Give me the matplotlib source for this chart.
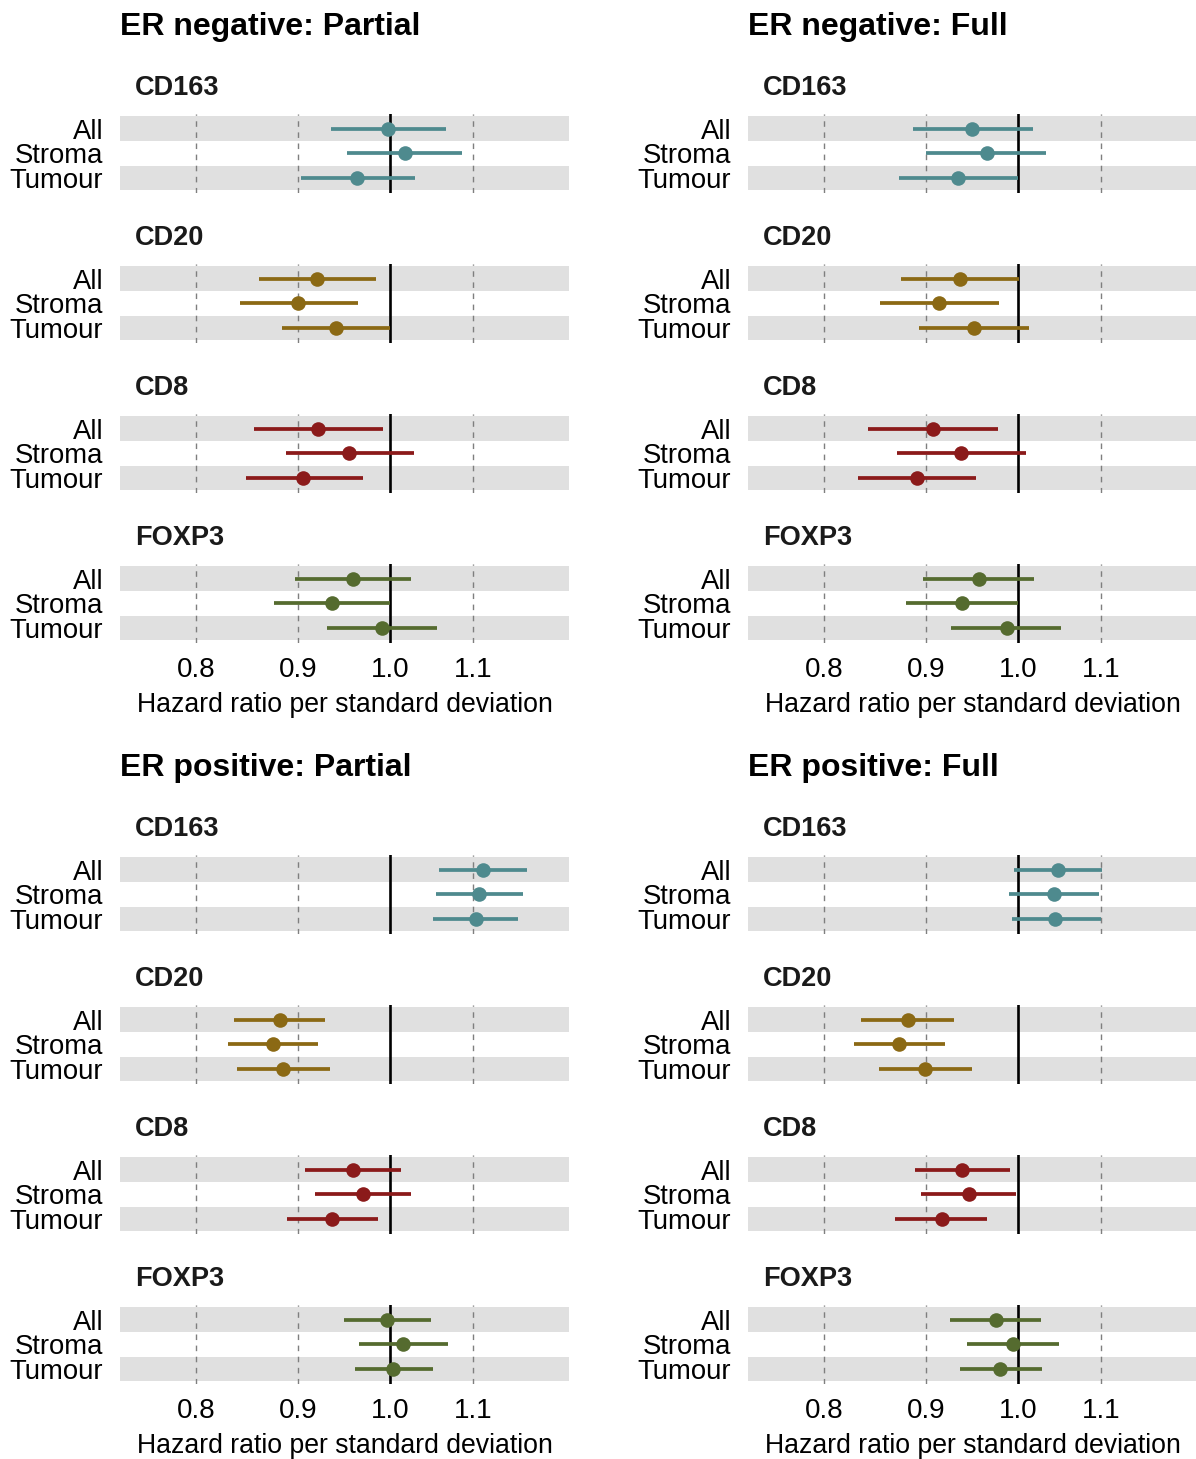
import numpy as np
import matplotlib
matplotlib.use('Agg')
import matplotlib.pyplot as plt

plt.rcParams['font.family'] = ['Liberation Sans', 'DejaVu Sans']

# panel titles (row by row)
panel_titles = ['ER negative: Partial', 'ER negative: Full',
                'ER positive: Partial', 'ER positive: Full']
markers = ['CD163', 'CD20', 'CD8', 'FOXP3']
regions = ['All', 'Stroma', 'Tumour']
colours = ['#4E8A8E', '#8B6914', '#8B1A1A', '#556B2F']

# hazard ratio estimates [marker][region]
hr_neg_partial = [[0.998, 1.017, 0.963], [0.919, 0.900, 0.940],
                  [0.921, 0.954, 0.905], [0.958, 0.936, 0.991]]
lo_neg_partial = [[0.934, 0.952, 0.903], [0.860, 0.842, 0.883],
                  [0.855, 0.887, 0.847], [0.896, 0.875, 0.930]]
hi_neg_partial = [[1.066, 1.086, 1.029], [0.984, 0.964, 1.000],
                  [0.992, 1.028, 0.969], [1.024, 1.000, 1.055]]

hr_neg_full = [[0.949, 0.965, 0.933], [0.935, 0.913, 0.951],
               [0.907, 0.937, 0.890], [0.956, 0.938, 0.987]]
lo_neg_full = [[0.886, 0.900, 0.872], [0.874, 0.853, 0.892],
               [0.842, 0.870, 0.832], [0.896, 0.879, 0.926]]
hi_neg_full = [[1.017, 1.033, 1.000], [1.001, 0.978, 1.013],
               [0.977, 1.009, 0.953], [1.019, 1.000, 1.051]]

hr_pos_partial = [[1.113, 1.108, 1.104], [0.881, 0.874, 0.884],
                  [0.958, 0.969, 0.936], [0.996, 1.015, 1.004]]
lo_pos_partial = [[1.058, 1.054, 1.051], [0.836, 0.830, 0.839],
                  [0.907, 0.917, 0.888], [0.948, 0.965, 0.960]]
hi_pos_partial = [[1.170, 1.165, 1.159], [0.928, 0.921, 0.933],
                  [1.013, 1.024, 0.986], [1.048, 1.069, 1.051]]

hr_pos_full = [[1.047, 1.042, 1.044], [0.881, 0.872, 0.899],
               [0.938, 0.945, 0.916], [0.975, 0.994, 0.980]]
lo_pos_full = [[0.995, 0.990, 0.993], [0.835, 0.828, 0.852],
               [0.888, 0.894, 0.868], [0.925, 0.943, 0.935]]
hi_pos_full = [[1.102, 1.097, 1.100], [0.929, 0.919, 0.949],
               [0.991, 0.998, 0.965], [1.027, 1.048, 1.028]]

hr_all = [hr_neg_partial, hr_neg_full, hr_pos_partial, hr_pos_full]
lo_all = [lo_neg_partial, lo_neg_full, lo_pos_partial, lo_pos_full]
hi_all = [hi_neg_partial, hi_neg_full, hi_pos_partial, hi_pos_full]

W, H = 1196, 1459
fig = plt.figure(figsize=(W / 100, H / 100), dpi=100)


def px_axes(left, top, width, height):
    return fig.add_axes([left / W, 1 - (top + height) / H, width / W, height / H])


rows = np.arange(1, 4)
for p in range(4):
    half, col = divmod(p, 2)
    x0 = 120 + col * 628
    y0 = 114 + half * 741
    fig.text(x0 / W, 1 - (27 + half * 741) / H, panel_titles[p],
             fontsize=23, fontweight='bold', ha='left', va='center')
    for k in range(4):
        top = y0 + k * 150
        ax = px_axes(x0, top, 449, 78.7)
        for r in [1, 3]:
            ax.axhspan(r - 0.5, r + 0.5, color='#E0E0E0', lw=0, zorder=0)
        for t in [0.8, 0.9, 1.1]:
            ax.axvline(t, color='#7F7F7F', ls=(0, (4, 4)), lw=1, zorder=1)
        ax.axvline(1.0, color='black', lw=1.9, zorder=2)
        ax.hlines(rows, lo_all[p][k], hi_all[p][k], color=colours[k], lw=2.7, zorder=3)
        ax.plot(hr_all[p][k], rows, 'o', color=colours[k], ms=10.5, mew=0, zorder=4)
        ax.set_xscale('log')
        ax.set_xlim(0.7331, 1.2285)
        ax.set_ylim(3.6, 0.4)
        ax.set_yticks(rows)
        ax.set_yticklabels(regions, fontsize=19.8)
        ax.xaxis.set_minor_locator(matplotlib.ticker.NullLocator())
        ax.set_xticks([0.8, 0.9, 1.0, 1.1])
        if k == 3:
            ax.set_xticklabels(['0.8', '0.9', '1.0', '1.1'], fontsize=20)
            ax.set_xlabel('Hazard ratio per standard deviation', fontsize=19.2, labelpad=7)
        else:
            ax.set_xticklabels([])
        ax.tick_params(length=0, pad=12)
        ax.tick_params(axis='x', pad=10)
        for s in ax.spines.values():
            s.set_visible(False)
        fig.text((x0 + 15) / W, 1 - (top - 26) / H, markers[k], fontsize=19.5,
                 fontweight='bold', color='#1A1A1A', ha='left', va='center')

fig.savefig('out.png', dpi=100)
